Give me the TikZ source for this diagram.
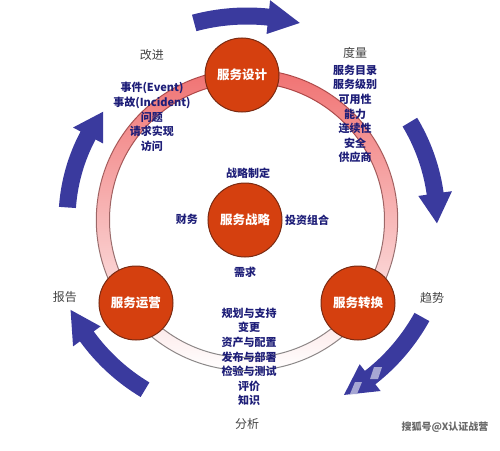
\documentclass[tikz,border=0pt]{standalone}
\usepackage{fontspec}
\setmainfont{Noto Sans CJK SC}
\definecolor{arrowblue}{HTML}{3A3A9E}
\definecolor{circfill}{HTML}{D5400F}
\definecolor{circline}{HTML}{7A2A12}
\definecolor{listblue}{HTML}{1E1E78}
\definecolor{labgray}{HTML}{444444}
\definecolor{ringred}{HTML}{F07272}
\definecolor{ringdark}{HTML}{B04545}
\definecolor{ringgray}{HTML}{8A8A8A}
\newcommand{\cyclearrow}[3]{% #1 tail angle, #2 tip angle, #3 radius
  \pgfmathsetmacro\hb{#2+9}%
  \fill[arrowblue] ({#1}:{#3+8.5}) arc[start angle={#1}, end angle=\hb, radius={#3+8.5}]
    -- (\hb:{#3+17}) -- ({#2}:{#3}) -- (\hb:{#3-17}) -- (\hb:{#3-8.5})
    arc[start angle=\hb, end angle={#1}, radius={#3-8.5}] -- cycle;}
\begin{document}
\begin{tikzpicture}[x=1pt,y=1pt,
  phase/.style={circle, fill=circfill, draw=circline, line width=1pt, minimum size=74pt,
    inner sep=0pt, text=white, font=\fontsize{12.5}{14}\selectfont\bfseries},
  listtext/.style={text=listblue, font=\fontsize{11}{14.6}\selectfont\bfseries,
    align=center, inner sep=0pt},
  graylab/.style={text=labgray, font=\fontsize{12}{14}\selectfont, inner sep=0pt},
  patch/.style={fill=arrowblue!45, draw=none}]
\useasboundingbox (-247,-230) rectangle (253,220);
% ring
\shade[top color=ringred, middle color=ringred!60, bottom color=white, even odd rule]
  (0,0) circle[radius=150.5] (0,0) circle[radius=137.5];
\shade[top color=ringdark, bottom color=ringgray, even odd rule]
  (0,0) circle[radius=151.2] (0,0) circle[radius=150.2];
\shade[top color=ringdark, bottom color=ringgray, even odd rule]
  (0,0) circle[radius=138.0] (0,0) circle[radius=137.0];
% arrows
\cyclearrow{105}{75}{204}
\cyclearrow{31}{-1}{190}
\cyclearrow{-29}{-61}{200}
\cyclearrow{-121}{-153}{198}
\cyclearrow{176}{143}{180}
% light patches on the lower right arrow
\fill[patch] (103,-174) -- (110,-174) -- (115,-162) -- (108,-162) -- cycle;
\fill[patch] (123,-159) -- (131,-159) -- (135,-147) -- (127,-147) -- cycle;
% phases
\node[phase] (design) at (-5,145) {服务设计};
\node[phase] (strategy) at (-2,0) {服务战略};
\node[phase] (operation) at (-111,-83) {服务运营};
\node[phase] (transition) at (111,-83) {服务转换};
% labels
\node[graylab] (improve) at (-95,165) {改进};
\node[listtext] (improvelist) at (-95,103) {事件(Event)\\事故(Incident)\\问题\\请求实现\\访问};
\node[graylab] (measure) at (108,167) {度量};
\node[listtext] (measurelist) at (108,106) {服务目录\\服务级别\\可用性\\能力\\连续性\\安全\\供应商};
\node[listtext] (formulate) at (1,47) {战略制定};
\node[listtext] (finance) at (-60,1) {财务};
\node[listtext] (portfolio) at (60,0) {投资组合};
\node[listtext] (demand) at (-2,-52) {需求};
\node[graylab] (report) at (-182,-77) {报告};
\node[graylab] (trend) at (185,-78) {趋势};
\node[listtext] (translist) at (2,-137) {规划与支持\\变更\\资产与配置\\发布与部署\\检验与测试\\评价\\知识};
\node[graylab] (analysis) at (0,-204) {分析};
\node[text=labgray!80, font=\fontsize{10}{12}\selectfont\bfseries, inner sep=0pt] (mark) at (198,-207) {搜狐号@X认证战营};
\end{tikzpicture}
\end{document}
